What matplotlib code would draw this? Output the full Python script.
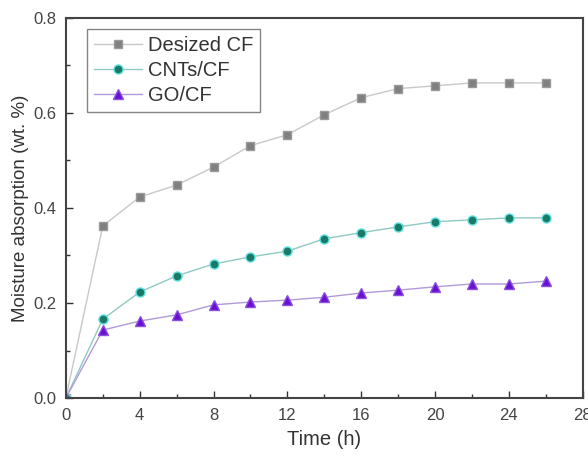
import matplotlib
matplotlib.use("Agg")
import matplotlib.pyplot as plt
from matplotlib.ticker import MultipleLocator

plt.rcParams['font.family'] = ['Liberation Sans', 'DejaVu Sans']

time_h = [0, 2, 4, 6, 8, 10, 12, 14, 16, 18, 20, 22, 24, 26]
desized_cf = [0.0, 0.362, 0.423, 0.448, 0.486, 0.531, 0.554, 0.596, 0.632, 0.651, 0.657, 0.663, 0.663, 0.663]
cnts_cf = [0.0, 0.166, 0.223, 0.257, 0.282, 0.297, 0.309, 0.335, 0.348, 0.360, 0.371, 0.375, 0.379, 0.379]
go_cf = [0.0, 0.143, 0.162, 0.175, 0.196, 0.202, 0.206, 0.212, 0.221, 0.227, 0.234, 0.240, 0.240, 0.246]

fig = plt.figure(figsize=(5.88, 4.57), dpi=100)
ax = fig.add_axes([0.112, 0.129, 0.879, 0.832])

ax.plot(time_h, desized_cf, color='#c8c8c8', lw=1.0, marker='s', ms=6,
        mfc='#808080', mec='#9a9a9a', label='Desized CF')
ax.plot(time_h, cnts_cf, color='#8fc9c4', lw=1.0, marker='o', ms=6.5,
        mfc='#1a7a68', mec='#5fe0e0', label='CNTs/CF')
ax.plot(time_h, go_cf, color='#b09ad8', lw=1.0, marker='^', ms=7,
        mfc='#6a10d0', mec='#8a50e0', label='GO/CF')

ax.set_xlim(0, 28)
ax.set_ylim(0, 0.8)
ax.xaxis.set_major_locator(MultipleLocator(4))
ax.xaxis.set_minor_locator(MultipleLocator(2))
ax.yaxis.set_major_locator(MultipleLocator(0.2))
ax.yaxis.set_minor_locator(MultipleLocator(0.1))
ax.yaxis.set_major_formatter(plt.FuncFormatter(lambda v, p: f"{v:.1f}"))
ax.tick_params(which='both', direction='in', colors='#333333', labelcolor='#444444', width=1.0)
ax.tick_params(which='major', length=5, labelsize=12, pad=7)
ax.tick_params(which='minor', length=3)
for s in ax.spines.values():
    s.set_linewidth(1.5)
    s.set_color('#444444')

ax.set_xlabel('Time (h)', fontsize=14.5, color='#333333', labelpad=5)
ax.set_ylabel('Moisture absorption (wt. %)', fontsize=13.5, color='#333333', labelpad=3)

leg = ax.legend(loc='upper left', bbox_to_anchor=(0.04, 0.97), fontsize=14.5,
                frameon=True, fancybox=False, edgecolor='#666666', handlelength=2.4,
                borderpad=0.35, labelspacing=0.3, handletextpad=0.3, borderaxespad=0)
leg.get_frame().set_linewidth(1.0)
for t in leg.get_texts():
    t.set_color('#333333')

fig.savefig('out.png', dpi=100)
